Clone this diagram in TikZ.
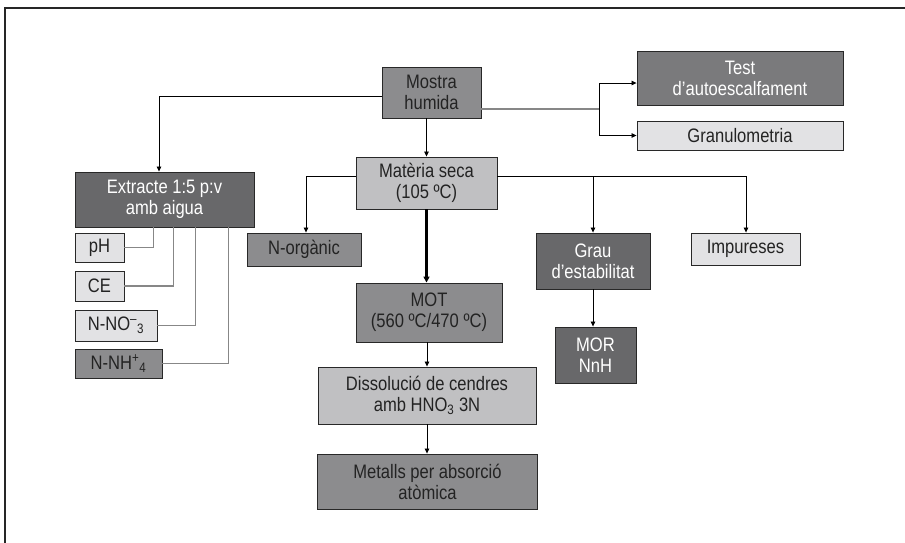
\documentclass[tikz,border=0pt]{standalone}
\usepackage{fontspec}
\setmainfont{Liberation Sans}[FakeStretch=0.85]
\usetikzlibrary{arrows.meta,calc}
\definecolor{cdark}{RGB}{104,104,106}
\definecolor{ctest}{RGB}{122,122,124}
\definecolor{cmid}{RGB}{140,140,142}
\definecolor{clight}{RGB}{192,192,194}
\definecolor{cpale}{RGB}{226,226,228}
\definecolor{cline}{RGB}{40,40,40}
\definecolor{cgl}{RGB}{135,135,135}
\definecolor{ctxt}{RGB}{35,35,35}
\begin{document}
\begin{tikzpicture}[x=1pt,y=-1pt,
  box/.style={draw=cline, line width=0.9pt, inner sep=0pt, align=center,
    font=\fontsize{19.5}{21}\selectfont, text=ctxt},
  dk/.style={box, fill=cdark, text=white},
  tst/.style={box, fill=ctest, text=white},
  md/.style={box, fill=cmid},
  lt/.style={box, fill=clight},
  pl/.style={box, fill=cpale},
  arr/.style={draw=black, line width=0.8pt, -{Triangle[length=5pt,width=4.5pt]}},
  thickarr/.style={draw=black, line width=2.2pt, -{Triangle[length=6pt,width=6pt]}},
  gl/.style={draw=cgl, line width=1.3pt},
  gthick/.style={draw=cgl, line width=1.8pt},
  plain/.style={draw=black, line width=0.8pt}
]
\useasboundingbox (0,0) rectangle (905,542);
\fill[white] (0,0) rectangle (905,542);
\draw[line width=1.6pt, black!85] (5,546) -- (5,8) -- (910,8);

% nodes
\node[md, minimum width=99pt, minimum height=51pt] (mostra) at (431.5,92.5) {Mostra\\humida};
\node[lt, minimum width=141pt, minimum height=52pt] (materia) at (426.5,183) {Matèria seca\\(105 ºC)};
\node[tst, minimum width=206pt, minimum height=54pt] (test) at (740,78) {Test\\d’autoescalfament};
\node[pl, minimum width=206pt, minimum height=29pt] (gran) at (740,135.5) {Granulometria};
\node[dk, minimum width=179pt, minimum height=55pt] (extr) at (164.5,199.5) {Extracte 1:5 p:v\\amb aigua};
\node[pl, minimum width=49pt, minimum height=29pt] (ph) at (99.5,247.5) {pH};
\node[pl, minimum width=49pt, minimum height=30pt] (ce) at (99.5,286) {CE};
\node[pl, minimum width=82pt, minimum height=31pt] (no3) at (116,325.5) {N-NO\textsuperscript{–}\textsubscript{3}};
\node[md, minimum width=87pt, minimum height=29pt] (nh4) at (118.5,363.5) {N-NH\textsuperscript{+}\textsubscript{4}};
\node[md, minimum width=114pt, minimum height=33pt] (norg) at (304,249.5) {N-orgànic};
\node[md, minimum width=146pt, minimum height=59pt] (mot) at (429,312.5) {MOT\\(560 ºC/470 ºC)};
\node[lt, minimum width=218pt, minimum height=57pt] (diss) at (427,395.5) {Dissolució de cendres\\amb HNO\textsubscript{3} 3N};
\node[md, minimum width=220pt, minimum height=55pt] (met) at (427.5,481.5) {Metalls per absorció\\atòmica};
\node[dk, minimum width=114pt, minimum height=56pt] (grau) at (593,261) {Grau\\d’estabilitat};
\node[dk, minimum width=81pt, minimum height=56pt] (mor) at (595.5,355) {MOR\\NnH};
\node[pl, minimum width=109pt, minimum height=32pt] (imp) at (745.5,249) {Impureses};

% connectors from Mostra
\draw[arr] ($(mostra.west)+(0,3.5)$) -| ($(extr.north)+(-5.5,0)$);
\coordinate (br) at (599,109);
\draw[gthick] ($(mostra.east)+(0,16.5)$) -- (br);
\draw[arr] (br) |- ($(test.west)+(0,5)$);
\draw[arr] (br) |- (gran.west);
\draw[arr] (materia.north |- mostra.south) -- (materia.north);

% from Materia
\draw[arr] ($(materia.west)+(0,-7)$) -| ($(norg.north)+(2,0)$);
\coordinate (mr) at (746,176);
\draw[plain] ($(materia.east)+(0,-7)$) -- (mr);
\draw[arr] (mr) -- (mr |- imp.north);
\draw[arr] (grau.north |- mr) -- (grau.north);
\draw[thickarr] (materia.south) -- (materia.south |- mot.north);
\draw[arr] (mot.south -| diss.north) -- (diss.north);
\draw[arr] (diss.south) -- (diss.south |- met.north);
\draw[arr] (grau.south) -- (grau.south |- mor.north);

% from Extracte
\draw[gl] ($(extr.south west)+(79,0)$) |- (ph.east);
\draw[gl] ($(extr.south west)+(99,0)$) |- (ce.east);
\draw[gl] ($(extr.south west)+(121,0)$) |- (no3.east);
\draw[gl] ($(extr.south west)+(154,0)$) |- (nh4.east);
\end{tikzpicture}
\end{document}
